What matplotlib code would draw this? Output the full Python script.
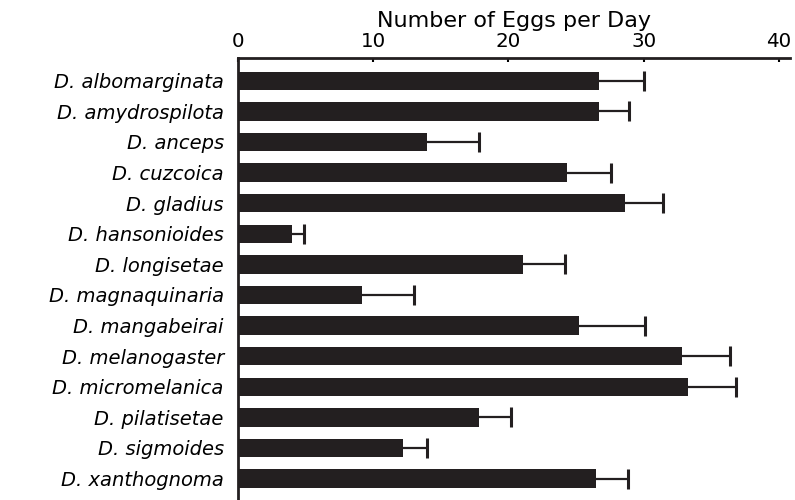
import matplotlib
matplotlib.use("Agg")
import matplotlib.pyplot as plt

# values (eggs per day, mean and upper error)
species = ["D. albomarginata", "D. amydrospilota", "D. anceps", "D. cuzcoica",
           "D. gladius", "D. hansonioides", "D. longisetae", "D. magnaquinaria",
           "D. mangabeirai", "D. melanogaster", "D. micromelanica",
           "D. pilatisetae", "D. sigmoides", "D. xanthognoma"]
eggs = [26.7, 26.7, 14.0, 24.3, 28.6, 4.0, 21.1, 9.2, 25.2, 32.8, 33.3, 17.8, 12.2, 26.5]
err = [3.3, 2.2, 3.8, 3.3, 2.8, 0.9, 3.1, 3.8, 4.9, 3.6, 3.5, 2.4, 1.8, 2.3]
xticks = [0, 10, 20, 30, 40]

plt.rcParams["font.family"] = ["DejaVu Sans"]
ink = "#231f20"

fig = plt.figure(figsize=(7.95, 5.0), dpi=100)
ax = fig.add_axes([0.299, 0.0, 0.6947, 0.8834])

ypos = list(range(len(species)))
upper = [m + e for m, e in zip(eggs, err)]
ax.barh(ypos, eggs, height=0.6, color=ink, zorder=2)
# one-sided error bars: stem from bar end, cap only at the far end
ax.hlines(ypos, eggs, upper, color=ink, lw=1.6, zorder=1)
ax.plot(upper, ypos, ls="none", marker="|", ms=14, mew=2.2, color=ink, zorder=1)

ax.set_xlim(0, 40.8)
ax.set_ylim(13.7, -0.735)
ax.xaxis.tick_top()
ax.xaxis.set_label_position("top")
ax.set_xticks(xticks)
ax.set_xticklabels([str(t) for t in xticks], fontsize=14.3)
ax.set_xlabel("Number of Eggs per Day", fontsize=16, labelpad=4)
ax.tick_params(axis="x", direction="in", length=3, width=1.5, pad=5)

ax.set_yticks(ypos)
ax.set_yticklabels(species, fontsize=14, fontstyle="italic")
ax.tick_params(axis="y", length=0, pad=10)

for s in ["right", "bottom"]:
    ax.spines[s].set_visible(False)
for s in ["top", "left"]:
    ax.spines[s].set_linewidth(2)
    ax.spines[s].set_color(ink)

fig.savefig("out.png", dpi=100)
